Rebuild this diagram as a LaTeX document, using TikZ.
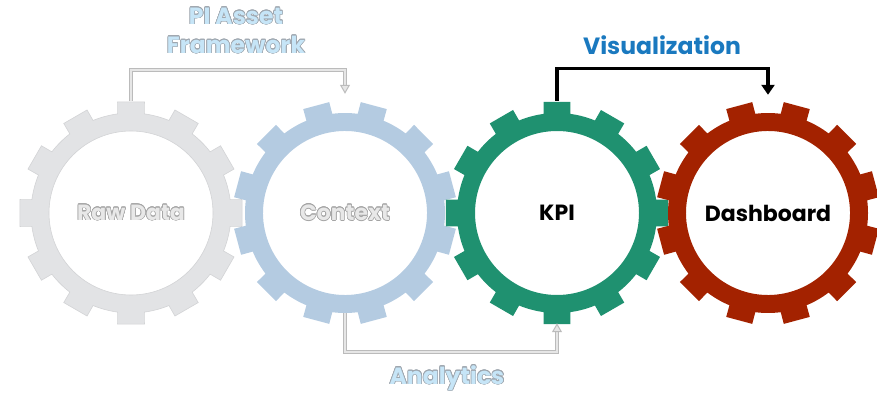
\documentclass[tikz,border=0pt]{standalone}
\usepackage{fontspec}
\setmainfont{Poppins}
\usepackage{contour}
\contourlength{0.6pt}
\usetikzlibrary{arrows.meta}
\definecolor{rawgray}{HTML}{E2E3E5}
\definecolor{rawedge}{HTML}{D2D3D5}
\definecolor{ctxblue}{HTML}{B4CBE1}
\definecolor{kpigreen}{HTML}{1F9170}
\definecolor{dashred}{HTML}{A32200}
\definecolor{vizblue}{HTML}{1A79BF}
\definecolor{lightlbl}{HTML}{C6E5F7}
\definecolor{lbledge}{HTML}{9EA6AE}
\definecolor{fadetxt}{HTML}{E8E8E8}
\definecolor{fadeedge}{HTML}{A4A4A4}
\definecolor{connedge}{HTML}{BBBBBB}
\definecolor{connfill}{HTML}{E6E6E6}
\newcommand\geartrack[3]{%
  \fill[#3, even odd rule, shift={#1}, rotate=#2]
    (82.3:100) \foreach \i in {0,...,11}{
      -- (\i*30+82.3:100) -- (\i*30+83.1:112) -- (\i*30+96.9:112) -- (\i*30+97.7:100)
      arc[start angle=\i*30+97.7, end angle=\i*30+112.3, radius=100]
    } -- cycle
    (0,0) circle[radius=82];
}
\tikzset{
  gearnode/.style={circle, minimum size=224pt, inner sep=0pt,
    font=\fontsize{22}{26}\selectfont\bfseries},
  lbl/.style={inner sep=0pt, font=\fontsize{23.5}{29}\selectfont\bfseries, align=center},
  conn/.style={draw=connedge, line width=1pt, double=connfill, double distance=2pt,
    -{Triangle[open, fill=connfill, length=9pt, width=10pt]}},
  vizconn/.style={draw=black, line width=3.2pt, -{Triangle[length=10pt, width=13pt]}},
}
\begin{document}
\begin{tikzpicture}[x=1pt, y=-1pt]
\useasboundingbox (0,0) rectangle (877,395);
\node[gearnode, text=fadetxt] (rd) at (131,213) {\contour{fadeedge}{Raw Data}};
\node[gearnode, text=fadetxt] (ctx) at (345,213) {\contour{fadeedge}{Context}};
\node[gearnode, text=black] (kpi) at (557,213) {KPI};
\node[gearnode, text=black] (dash) at (768,213) {Dashboard};
\geartrack{(rd.center)}{0}{rawgray, draw=rawedge, line width=0.6pt}
\geartrack{(ctx.center)}{15}{ctxblue}
\geartrack{(kpi.center)}{0}{kpigreen}
\geartrack{(dash.center)}{15}{dashred}
\node[lbl, text=lightlbl] (pi) at (236,31) {\contour{lbledge}{PI Asset}\\\contour{lbledge}{Framework}};
\node[lbl, text=vizblue] (viz) at (662,45) {Visualization};
\node[lbl, text=lightlbl] (ana) at (447,378) {\contour{lbledge}{Analytics}};
\draw[conn, shorten >=7pt] (rd.north) -- ++(0,-31) -| (ctx.north);
\draw[vizconn, shorten >=6pt] (kpi.north) -- ++(0,-32) -| (dash.north);
\draw[conn, shorten <=-12pt, shorten >=-2pt] (ctx.south) -- ++(0,27) -| (kpi.south);
\end{tikzpicture}
\end{document}
